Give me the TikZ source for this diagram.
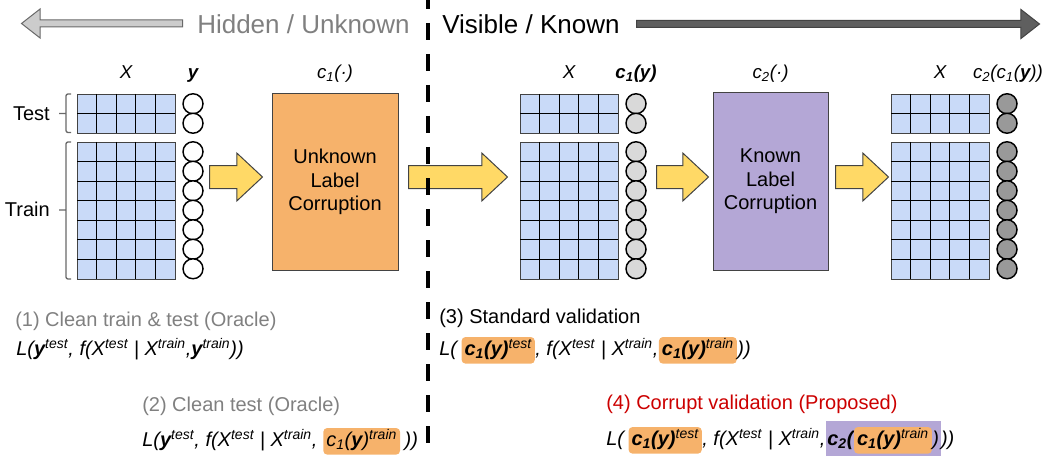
\documentclass[tikz,border=0pt]{standalone}
\usepackage{fontspec}
\setmainfont{Liberation Sans}
\usetikzlibrary{positioning,shapes.arrows,fit,backgrounds}
\definecolor{cellblue}{HTML}{C9DAF8}
\definecolor{corrorange}{HTML}{F6B26B}
\definecolor{corrpurple}{HTML}{B4A7D6}
\definecolor{flowyellow}{HTML}{FFD966}
\definecolor{darkline}{HTML}{434343}
\definecolor{hintgray}{HTML}{808080}
\definecolor{propred}{HTML}{CC0000}
\definecolor{lightdot}{HTML}{D9D9D9}
\definecolor{darkdot}{HTML}{999999}
\newcommand{\yv}{\textbf{y}}
\newcommand{\cy}[1]{\textbf{c\textsubscript{1}(y)}\textsuperscript{#1}}
% test block, train block and the label column of one data set
\newcommand{\dataset}[3]{%
  \node[gridblock, minimum height=29.25pt] (#2test) at (#1,94) {};
  \node[gridblock, minimum height=102.375pt] (#2train) at (#1,142) {};
  \foreach \i in {19.5,39.5,58.5,78.5}
    \draw[cellline] ({#1+\i},94) -- ({#1+\i},133)
                    ({#1+\i},142) -- ({#1+\i},278.5);
  \draw[cellline] (#1,113.5) -- ++(98,0);
  \foreach \j in {19.5,39.5,58.5,78.5,97.5,117.5}
    \draw[cellline] (#1,{142+\j}) -- ++(98,0);
  \foreach \k/\yy in {1/103.75,2/123.25}
    \node[labeldot, fill=#3] (#2t\k) at ({#1+116},\yy) {};
  \foreach \k in {1,...,7}
    \node[labeldot, fill=#3] (#2r\k) at ({#1+116},{132.25+19.5*\k}) {};
}

\begin{document}
\begin{tikzpicture}[x=0.75pt, y=-0.75pt,
    headtxt/.style={font=\fontsize{19.5}{23}\selectfont, inner sep=0},
    sidearrow/.style={single arrow, minimum height=#1, minimum width=21pt,
      single arrow head extend=8.25pt, single arrow tip angle=76,
      inner xsep=0, inner ysep=2.25pt, anchor=tail, line width=0.75pt},
    flowarrow/.style={single arrow, minimum height=#1, minimum width=35.25pt,
      single arrow head extend=9.375pt, single arrow tip angle=86,
      inner xsep=0, inner ysep=8.25pt, anchor=tail, fill=flowyellow,
      draw=darkline, line width=0.75pt},
    gridblock/.style={draw=darkline, fill=cellblue, anchor=north west, inner sep=0,
      minimum width=73.5pt, line width=0.9pt},
    cellline/.style={black, line width=0.9pt},
    labeldot/.style={circle, draw=black, line width=1.1pt, minimum size=15pt, inner sep=0},
    toplabel/.style={font=\fontsize{14}{16}\selectfont\itshape, anchor=base, inner sep=0},
    corrbox/.style={draw=darkline, line width=0.75pt, align=center, inner sep=0,
      font=\fontsize{15}{17.6}\selectfont},
    sidelabel/.style={font=\fontsize{15}{18}\selectfont, anchor=east, inner sep=0},
    bracket/.style={draw=darkline!80, line width=1pt, rounded corners=1.5pt},
    captiontxt/.style={font=\fontsize{15}{18}\selectfont, anchor=base west, inner sep=0},
    formula/.style={font=\fontsize{15}{18}\selectfont\itshape, inner sep=0},
    hlorange/.style={formula, fill=corrorange, rounded corners=3pt, inner xsep=2.25pt,
      inner ysep=1.5pt, text height=12pt, text depth=5pt}]
  \useasboundingbox (0,0) rectangle (1055,456);

  % hidden / visible header
  \node[headtxt, text=hintgray, anchor=base east] (hidden) at (410,34) {Hidden / Unknown};
  \node[headtxt, anchor=base west] (visible) at (442,34) {Visible / Known};
  \node[sidearrow=120.75pt, shape border rotate=180, fill=black!20, draw=darkline!80] (hidarr) at (183,23.5) {};
  \node[sidearrow=302.25pt, fill=darkline!85, draw=darkline] (visarr) at (636,24) {};

  % data sets
  \dataset{77}{l}{white}
  \dataset{520}{m}{lightdot}
  \dataset{891}{r}{darkdot}

  \node[toplabel] (lx) at (126,79) {X};
  \node[toplabel] (ly) at (193,79) {\yv};
  \node[toplabel] (mx) at (569,79) {X};
  \node[toplabel] (my) at (636,79) {\textbf{c\textsubscript{1}(y)}};
  \node[toplabel] (rx) at (940,79) {X};
  \node[toplabel] (ry) at (1008,79) {c\textsubscript{2}(c\textsubscript{1}(\yv))};

  % corruption boxes
  \node[corrbox, fill=corrorange, minimum width=94.5pt, minimum height=132pt] (unknown) at (335,182) {Unknown\\Label\\Corruption};
  \node[corrbox, fill=corrpurple, minimum width=86.25pt, minimum height=132.75pt] (known) at (770.5,181.5) {Known\\Label\\Corruption};
  \node[toplabel] (conelab) at (335,79) {c\textsubscript{1}(·)};
  \node[toplabel] (ctwolab) at (770.5,79) {c\textsubscript{2}(·)};

  % flow arrows
  \node[flowarrow=39.75pt] (flowa) at (209,177) {};
  \node[flowarrow=74.25pt] (flowb) at (408,177) {};
  \node[flowarrow=39pt] (flowc) at (656,177) {};
  \node[flowarrow=39.75pt] (flowd) at (835,177) {};

  % divider
  \draw[line width=3pt, dash pattern=on 12.75pt off 10.5pt, dash phase=6pt] (428,0) -- (428,456);

  % test / train brackets
  \draw[bracket] (71,94) -- (66,94) -- (66,132.5) -- (71,132.5) (66,113.5) -- (59,113.5);
  \draw[bracket] (71,142) -- (66,142) -- (66,279) -- (71,279) (66,210) -- (59,210);
  \node[sidelabel] (testlab) at (50,114) {Test};
  \node[sidelabel] (trainlab) at (50,209) {Train};

  % (1) clean train and test
  \node[captiontxt, text=hintgray] (capa) at (15,326) {(1) Clean train \& test (Oracle)};
  \node[formula, anchor=base west] (fa) at (16,355) {L(\yv\textsuperscript{test}, f(X\textsuperscript{test} | X\textsuperscript{train},\yv\textsuperscript{train}))};

  % (2) clean test
  \node[captiontxt, text=hintgray] (capb) at (142,411) {(2) Clean test (Oracle)};
  \node[formula, anchor=base west] (fb1) at (142,446) {L(\yv\textsuperscript{test}, f(X\textsuperscript{test} | X\textsuperscript{train},};
  \node[hlorange, base right=4pt of fb1] (fb2) {c\textsubscript{1}(\yv)\textsuperscript{train}};
  \node[formula, base right=3pt of fb2] (fb3) {))};

  % (3) standard validation
  \node[captiontxt] (capc) at (439,323) {(3) Standard validation};
  \node[formula, anchor=base west] (fc1) at (439,355) {L(};
  \node[hlorange, base right=3pt of fc1] (fc2) {\cy{test}};
  \node[formula, base right=0pt of fc2] (fc3) {, f(X\textsuperscript{test} | X\textsuperscript{train},};
  \node[hlorange, base right=0pt of fc3] (fc4) {\cy{train}};
  \node[formula, base right=0pt of fc4] (fc5) {))};

  % (4) corrupt validation
  \node[captiontxt, text=propred] (capd) at (606,409) {(4) Corrupt validation (Proposed)};
  \node[formula, anchor=base west] (fd1) at (606,445) {L(};
  \node[hlorange, base right=3pt of fd1] (fd2) {\cy{test}};
  \node[formula, base right=0pt of fd2] (fd3) {, f(X\textsuperscript{test} | X\textsuperscript{train},};
  \node[formula, base right=1pt of fd3] (fd4) {\textbf{c\textsubscript{2}(}};
  \node[hlorange, base right=0pt of fd4] (fd5) {\cy{train}};
  \node[formula, base right=0pt of fd5] (fd6) {)};
  \node[formula, base right=1pt of fd6] (fd7) {))};
  \begin{scope}[on background layer]
    \node[fit=(fd4)(fd5)(fd6), fill=corrpurple, inner xsep=1pt, inner ysep=4pt] (fdbox) {};
  \end{scope}
\end{tikzpicture}
\end{document}
